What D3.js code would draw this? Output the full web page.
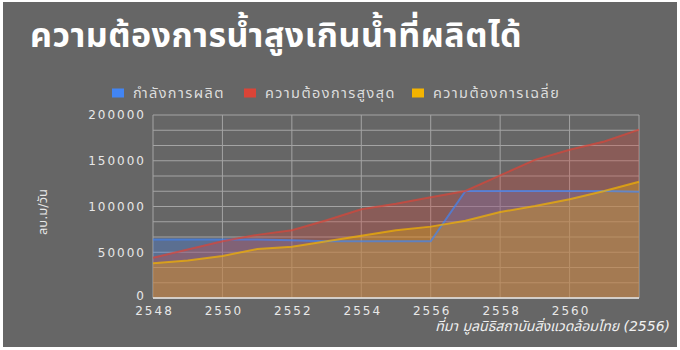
<!DOCTYPE html>
<html>
<head>
<meta charset="utf-8">
<script src="https://cdn.jsdelivr.net/npm/d3@7"></script>
<style>
  html, body { margin: 0; padding: 0; background: #fff; }
  svg { display: block; }
  text { font-family: "DejaVu Sans", "Noto Sans Thai", "Noto Sans", sans-serif; }
</style>
</head>
<body>
<svg id="chart" width="680" height="350"></svg>
<script>
'use strict'

const years = [2548, 2549, 2550, 2551, 2552, 2553, 2554, 2555, 2556, 2557, 2558, 2559, 2560, 2561, 2562]
const capacity = [64000, 64000, 64000, 64000, 63000, 62000, 62000, 62000, 62000, 117000, 117000, 117000, 117000, 117000, 116000]
const peakDemand = [44000, 53000, 62000, 69000, 74000, 85000, 97000, 103000, 110000, 117000, 134000, 151000, 162000, 171000, 184000]
const avgDemand = [38000, 41000, 46000, 53500, 56000, 62000, 68000, 74000, 78000, 84500, 94000, 100500, 108000, 117000, 127000]
const xTicks = [2548, 2550, 2552, 2554, 2556, 2558, 2560]
const yTicks = [0, 50000, 100000, 150000, 200000]

const series = [
  { name: 'กำลังการผลิต', color: '#4285f4', values: capacity },
  { name: 'ความต้องการสูงสุด', color: '#db4437', values: peakDemand },
  { name: 'ความต้องการเฉลี่ย', color: '#f4b400', values: avgDemand }
]

const svg = d3.select('#chart')

// gray card with a thin white margin
svg.append('rect')
  .attr('x', 3).attr('y', 2)
  .attr('width', 674).attr('height', 345)
  .attr('fill', '#666666')

const x = d3.scaleLinear().domain([2548, 2562]).range([153, 639])
const y = d3.scaleLinear().domain([0, 200000]).range([298, 115])

// minor + major horizontal grid (3 lines per 50000)
const gridY = d3.range(0, 200001, 50000 / 3)
svg.append('g')
  .selectAll('line')
  .data(gridY)
  .enter()
  .append('line')
  .attr('x1', x.range()[0]).attr('x2', x.range()[1])
  .attr('y1', d => y(d)).attr('y2', d => y(d))
  .attr('stroke', '#a4a4a4')
  .attr('stroke-width', 1)

svg.append('g')
  .selectAll('line')
  .data(xTicks.concat([2562]))
  .enter()
  .append('line')
  .attr('x1', d => x(d)).attr('x2', d => x(d))
  .attr('y1', y.range()[0]).attr('y2', y.range()[1])
  .attr('stroke', '#a4a4a4')
  .attr('stroke-width', 1)

const area = d3.area()
  .x((d, i) => x(years[i]))
  .y0(y(0))
  .y1(d => y(d))

const line = d3.line()
  .x((d, i) => x(years[i]))
  .y(d => y(d))

svg.append('g')
  .selectAll('path')
  .data(series)
  .enter()
  .append('path')
  .attr('d', s => area(s.values))
  .attr('fill', s => s.color)
  .attr('fill-opacity', 0.3)

svg.append('g')
  .selectAll('path')
  .data(series)
  .enter()
  .append('path')
  .attr('d', s => line(s.values))
  .attr('fill', 'none')
  .attr('stroke', s => s.color)
  .attr('stroke-opacity', 0.7)
  .attr('stroke-width', 2)

// baseline
svg.append('line')
  .attr('x1', x.range()[0]).attr('x2', x.range()[1])
  .attr('y1', y(0)).attr('y2', y(0))
  .attr('stroke', '#e6e6e6')
  .attr('stroke-width', 1.5)

// axes (labels only)
const yAxis = svg.append('g')
  .attr('transform', `translate(${x.range()[0]},0)`)
  .call(d3.axisLeft(y).tickValues(yTicks).tickSize(0).tickPadding(7).tickFormat(d3.format('d')))
yAxis.select('.domain').remove()
yAxis.selectAll('text')
  .attr('fill', '#e8e8e8')
  .attr('dy', d => d === 0 ? '0.1em' : '0.32em')
  .style('font-size', '12px')
  .style('letter-spacing', '2px')

const xAxis = svg.append('g')
  .attr('transform', `translate(1,${y.range()[0]})`)
  .call(d3.axisBottom(x).tickValues(xTicks).tickSize(0).tickPadding(8).tickFormat(d3.format('d')))
xAxis.select('.domain').remove()
xAxis.selectAll('text')
  .attr('fill', '#e8e8e8')
  .style('font-size', '12px')
  .style('letter-spacing', '2px')

// title
svg.append('text')
  .attr('x', 30).attr('y', 47)
  .attr('fill', '#ffffff')
  .style('font-size', '34px')
  .style('font-weight', 'bold')
  .style('letter-spacing', '0.5px')
  .text('ความต้องการน้ำสูงเกินน้ำที่ผลิตได้')

// legend
const legendX = [112, 244, 412]
const legend = svg.append('g')
  .selectAll('g')
  .data(series)
  .enter()
  .append('g')
  .attr('transform', (s, i) => `translate(${legendX[i]},93)`)
legend.append('rect')
  .attr('x', 0).attr('y', -4.5)
  .attr('width', 12).attr('height', 9)
  .attr('fill', s => s.color)
legend.append('text')
  .attr('x', 21).attr('y', 0)
  .attr('dy', '0.35em')
  .attr('fill', '#dddddd')
  .style('font-size', '14.5px')
  .style('letter-spacing', '1.4px')
  .text(s => s.name)

// y axis title
svg.append('text')
  .attr('transform', 'translate(42,212) rotate(-90)')
  .attr('text-anchor', 'middle')
  .attr('dy', '0.35em')
  .attr('fill', '#e8e8e8')
  .style('font-size', '13px')
  .text('ลบ.ม/วัน')

// source note
svg.append('text')
  .attr('x', 670).attr('y', 331)
  .attr('text-anchor', 'end')
  .attr('fill', '#f0f0f0')
  .style('font-size', '14px')
  .style('font-style', 'italic')
  .text('ที่มา มูลนิธิสถาบันสิ่งแวดล้อมไทย (2556)')
</script>
</body>
</html>
